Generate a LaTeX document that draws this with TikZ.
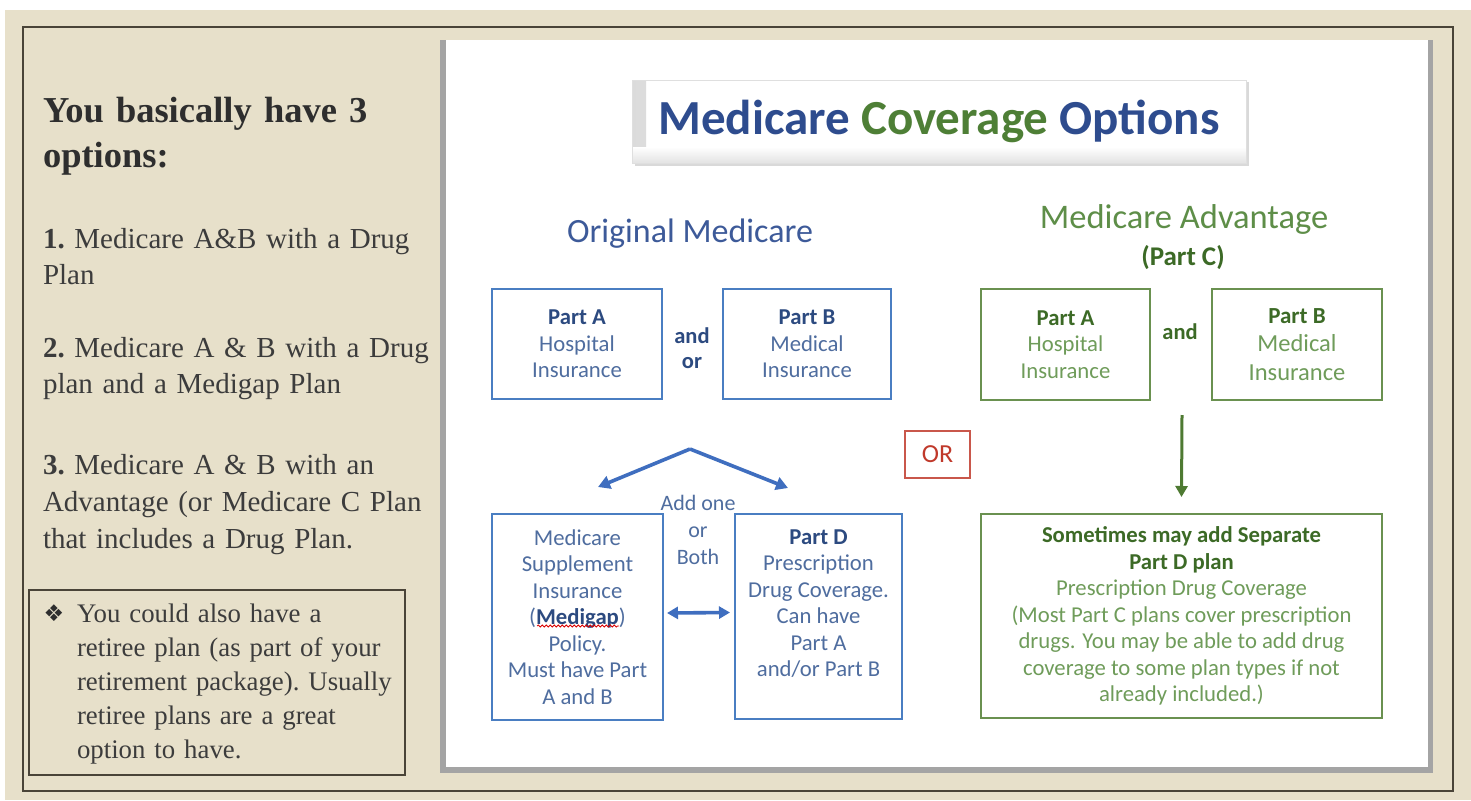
\documentclass[tikz,border=0pt]{standalone}
\usepackage{fontspec}
\setmainfont{Liberation Serif}
\newfontfamily\dgfont{Carlito}
\newfontfamily\symfont{DejaVu Sans}
\usetikzlibrary{arrows.meta,decorations.pathmorphing}

\definecolor{pagebeige}{HTML}{E7E0CA}
\definecolor{framec}{HTML}{4A4438}
\definecolor{headc}{HTML}{2E2E2E}
\definecolor{bodyc}{HTML}{3C3C3C}
\definecolor{panelshadow}{HTML}{A4A4A4}
\definecolor{titblue}{HTML}{2E4C8E}
\definecolor{titgreen}{HTML}{4E7F36}
\definecolor{origblue}{HTML}{3D5A99}
\definecolor{boxblue}{HTML}{4A7EC2}
\definecolor{txtdark}{HTML}{2C4A80}
\definecolor{txtblue}{HTML}{4F6D9F}
\definecolor{arrblue}{HTML}{3F6EBF}
\definecolor{advgreen}{HTML}{5E8E48}
\definecolor{boxgreen}{HTML}{6A9150}
\definecolor{gdark}{HTML}{3C6A26}
\definecolor{glight}{HTML}{6F9C5A}
\definecolor{arrgreen}{HTML}{4E7A32}
\definecolor{orred}{HTML}{C0392B}

\tikzset{
  every node/.style={inner sep=0pt, outer sep=0pt},
  lefttxt/.style={text width=400pt, align=left, text=bodyc,
    font=\frenchspacing\fontsize{29}{36}\selectfont},
  dgtxt/.style={font=\dgfont\fontsize{22.7}{26.5}\selectfont, align=center},
  bbox/.style={dgtxt, draw=boxblue, line width=2.6pt, text=txtblue},
  gbox/.style={dgtxt, draw=boxgreen, line width=2.6pt, text=glight},
  barrow/.style={draw=arrblue, line width=3.6pt,
    -{Triangle[length=12pt,width=13pt]}},
  bdarrow/.style={draw=arrblue, line width=3.6pt,
    {Triangle[length=11pt,width=12pt]}-{Triangle[length=11pt,width=12pt]}},
  garrow/.style={draw=arrgreen, line width=3pt,
    -{Triangle[length=11pt,width=12pt]}},
}

\begin{document}
\begin{tikzpicture}[x=1pt,y=-1pt]
\useasboundingbox (0,0) rectangle (1471,800);

% page background and frame
\fill[white] (0,0) rectangle (1471,800);
\fill[pagebeige] (5,10) rectangle (1471,800);
\draw[framec, line width=1.8pt] (23,27) rectangle (1453,791);

% white panel with its shadow
\fill[panelshadow] (440,40) rectangle (1433,773);
\fill[white] (446,40) rectangle (1428,767);

% ---------- left column ----------
\node[lefttxt, text=headc, anchor=base west,
      font=\frenchspacing\bfseries\fontsize{36.5}{45}\selectfont] (head) at (43,122)
  {You basically have 3\\options:};
\node[lefttxt, anchor=base west] (opt1) at (43,248)
  {\textbf{1.} Medicare A\&B with a Drug\\Plan};
\node[lefttxt, anchor=base west] (opt2) at (43,357)
  {\textbf{2.} Medicare A \& B with a Drug\\plan and a Medigap Plan};
\node[lefttxt, anchor=base west, font=\frenchspacing\fontsize{29}{37}\selectfont] (opt3) at (43,474)
  {\textbf{3.} Medicare A \& B with an\\Advantage (or Medicare C Plan\\that includes a Drug Plan.};

\node[draw=framec, line width=1.8pt, minimum width=376pt, minimum height=185pt]
  (retbox) at (217,682.5) {};
\node[font=\symfont\fontsize{23}{23}\selectfont, text=headc] (bul) at (54,613) {❖};
\node[lefttxt, anchor=base west, font=\frenchspacing\fontsize{26.8}{34}\selectfont] (rettxt) at (77,622)
  {You could also have a\\retiree plan (as part of your\\retirement package). Usually\\retiree plans are a great\\option to have.};

% ---------- title ----------
\fill[gray!30] (635,82) rectangle (1249,166);
\node[minimum width=614pt, minimum height=83pt, fill=white, draw=gray!25, line width=0.6pt,
      font=\dgfont\bfseries\fontsize{49}{55}\selectfont,
      path picture={
        \shade[left color=gray!28, right color=white]
          (path picture bounding box.south west) rectangle ([xshift=14pt]path picture bounding box.north west);
        \shade[top color=white, bottom color=gray!22]
          ([yshift=16pt]path picture bounding box.south west) rectangle (path picture bounding box.south east);
      }] (title) at (939,121.5)
  {\textcolor{titblue}{Medicare} \textcolor{titgreen}{Coverage} \textcolor{titblue}{Options}};

% ---------- original medicare ----------
\node[font=\dgfont\fontsize{34}{40}\selectfont, text=origblue, anchor=base] (orig) at (690,242)
  {Original Medicare};

\node[bbox, minimum width=170pt, minimum height=110pt] (pa) at (577,344)
  {\textbf{\textcolor{txtdark}{Part A}}\\Hospital\\Insurance};
\node[dgtxt, font=\dgfont\bfseries\fontsize{22.5}{25}\selectfont, text=txtdark] (andor) at (692,348)
  {and\\or};
\node[bbox, minimum width=168pt, minimum height=110pt] (pb) at (807,344)
  {\textbf{\textcolor{txtdark}{Part B}}\\Medical\\Insurance};

\coordinate (apex) at (690,449);
\coordinate (lt) at (598,487);
\coordinate (rt) at (788,488);
\draw[barrow] (apex) -- (lt);
\draw[barrow] (apex) -- (rt);

\node[dgtxt, font=\dgfont\fontsize{22}{27}\selectfont, text=txtblue] (addone) at (698,530)
  {Add one\\or\\Both};

\node[bbox, minimum width=171pt, minimum height=206pt] (mg) at (577.5,617)
  {Medicare\\Supplement\\Insurance\\(\textbf{\textcolor{txtdark}{Medigap}})\\Policy.\\Must have Part\\A and B};
% spell-check squiggle under "Medigap"
\draw[red!85!black, line width=0.8pt, decorate,
      decoration={snake, amplitude=1pt, segment length=4pt}] (537,626) -- (619,626);

\node[bbox, minimum width=167pt, minimum height=205pt] (pd) at (818.5,616.5)
  {\textbf{\textcolor{txtdark}{Part D}}\\Prescription\\Drug Coverage.\\Can have\\Part A\\and/or Part B\\\mbox{}};

\draw[bdarrow] ([shift={(4,-4)}]mg.east) -- ([shift={(-5,-4)}]pd.west);

% ---------- OR ----------
\node[draw=orred!85, line width=1.2pt, minimum width=65pt, minimum height=47pt,
      font=\dgfont\fontsize{26}{30}\selectfont, text=orred] (orbox) at (937.5,454.5) {OR};

% ---------- medicare advantage ----------
\node[font=\dgfont\fontsize{34.5}{40}\selectfont, text=advgreen, anchor=base] (advt) at (1184,228)
  {Medicare Advantage};
\node[font=\dgfont\bfseries\fontsize{27}{30}\selectfont, text=gdark, anchor=base] (partc) at (1183,265)
  {(Part C)};

\node[gbox, minimum width=169pt, minimum height=111pt] (ga) at (1065.5,344.5)
  {\textbf{\textcolor{gdark}{Part A}}\\Hospital\\Insurance};
\node[font=\dgfont\bfseries\fontsize{22.5}{25}\selectfont, text=gdark, anchor=base] (gand) at (1180,339)
  {and};
\node[gbox, minimum width=170pt, minimum height=111pt,
      font=\dgfont\fontsize{24.5}{28.5}\selectfont] (gb) at (1297,344.5)
  {\textbf{\textcolor{gdark}{\fontsize{23}{28.5}\selectfont Part B}}\\Medical\\Insurance};

\coordinate (gtop) at (1182,415);
\node[gbox, minimum width=401pt, minimum height=204pt] (gbig) at (1181.5,616)
  {\textbf{\textcolor{gdark}{Sometimes may add Separate}}\\
   \textbf{\textcolor{gdark}{Part D plan}}\\
   Prescription Drug Coverage\\
   (Most Part C plans cover prescription\\
   drugs. You may be able to add drug\\
   coverage to some plan types if not\\
   already included.)};
\draw[garrow] (gtop) -- ([yshift=17pt]gbig.north);

\end{tikzpicture}
\end{document}
